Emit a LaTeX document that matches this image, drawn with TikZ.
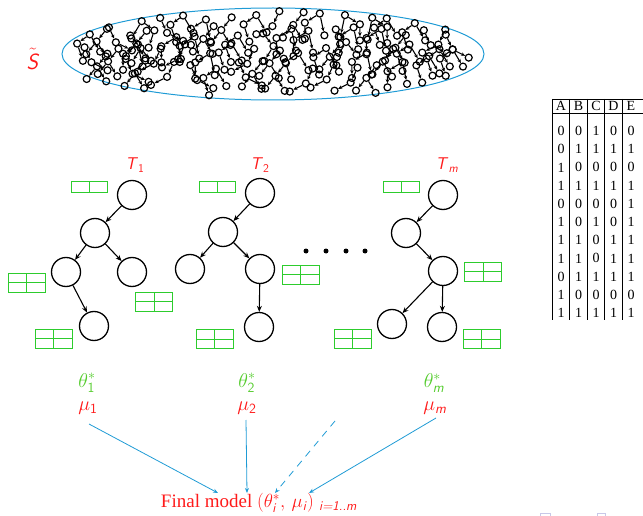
\documentclass[tikz,border=0pt]{standalone}
\usepackage{fix-cm}
\usepackage{amsmath}
\usepackage{fontspec}
\newfontfamily\romanfont{Liberation Serif}
\usepackage{tikz}
\usetikzlibrary{arrows.meta,positioning}

\definecolor{setred}{HTML}{FF1A1A}
\definecolor{slotgreen}{HTML}{2DCC2D}
\definecolor{paramgreen}{HTML}{55CC2E}
\definecolor{flowblue}{HTML}{1F9BD5}
\definecolor{navgray}{HTML}{C8C8E8}

\tikzset{
	tnode/.style={draw, circle, line width=1.3pt, minimum size=29pt, inner sep=0pt},
	tedge/.style={-{Stealth[length=6pt,width=5pt]}, line width=1.1pt},
	mini/.style={draw, circle, line width=1.2pt, minimum size=7pt, inner sep=0pt},
	minedge/.style={-{Stealth[length=4pt,width=3.6pt]}, line width=1.1pt},
	slotrow/.style={draw=slotgreen, line width=1pt, minimum width=36pt, minimum height=11pt, inner sep=0pt,
		path picture={\draw[slotgreen, line width=1pt] (path picture bounding box.north) -- (path picture bounding box.south);}},
	slotgrid/.style={draw=slotgreen, line width=1pt, minimum width=37pt, minimum height=19pt, inner sep=0pt,
		path picture={\draw[slotgreen, line width=1pt] (path picture bounding box.north) -- (path picture bounding box.south)
			(path picture bounding box.west) -- (path picture bounding box.east);}},
	tlabel/.style={text=setred, font=\fontsize{17}{19}\selectfont},
	param/.style={font=\fontsize{20}{22}\selectfont},
	flow/.style={draw=flowblue, line width=0.8pt, -{Stealth[length=5pt,width=4pt]}},
	cell/.style={font=\romanfont\fontsize{14}{16}\selectfont, inner sep=0pt},
	dot/.style={circle, fill=black, minimum size=5pt, inner sep=0pt},
	% small trees of the sample set
	minitA/.pic={
		\node[mini] (p) at (0,-12) {};
		\node[mini] (q) at (-9,-1) {};
		\node[mini] (s) at (-18,10) {};
		\node[mini] (t) at (-1,12) {};
		\draw[minedge] (p) -- (q);
		\draw[minedge] (q) -- (s);
		\draw[minedge] (q) -- (t);
	},
	minitB/.pic={
		\node[mini] (p) at (0,-12) {};
		\node[mini] (q) at (-11,-4) {};
		\node[mini] (s) at (-6,11) {};
		\node[mini] (u) at (9,3) {};
		\draw[minedge] (p) -- (q);
		\draw[minedge] (q) -- (s);
		\draw[minedge] (p) -- (u);
	},
	minitC/.pic={
		\node[mini] (p) at (3,-12) {};
		\node[mini] (q) at (-3,1) {};
		\node[mini] (s) at (-17,8) {};
		\draw[minedge] (p) -- (q);
		\draw[minedge] (q) -- (s);
	},
	minitD/.pic={
		\node[mini] (p) at (0,-11) {};
		\node[mini] (q) at (-13,-3) {};
		\node[mini] (s) at (-13,11) {};
		\node[mini] (t) at (4,8) {};
		\draw[minedge] (p) -- (q);
		\draw[minedge] (q) -- (s);
		\draw[minedge] (p) -- (t);
	}
}
\newcommand{\linknodes}[2]{
	\draw[tedge] (#1) -- (#2);
}

\begin{document}
\begin{tikzpicture}[x=1pt,y=-1pt]
	\useasboundingbox (0,0) rectangle (643,516);

	% sample set with its trees
	\node[text=setred, font=\fontsize{22}{24}\selectfont] (sset) at (33,59) {$\tilde{\textsf{\textit{S}}}$};
	\draw[flowblue, line width=1pt] (273,54) ellipse [x radius=211, y radius=46];
	\pgfmathsetseed{2718}
	\foreach \gx in {0,...,15}{
		\foreach \gy in {-26,-9,8,25}{
			\pgfmathsetmacro{\px}{92+23*\gx+11*mod(\gy+26,2)+10*rnd-5}
			\pgfmathsetmacro{\hw}{46*sqrt(max(0,1-((\px-273)/211)^2))}
			\pgfmathsetmacro{\py}{min(max(54+\gy+10*rnd-5,54-\hw+17),54+\hw-15)}
			\pgfmathtruncatemacro{\inside}{and(abs(\px-270)<185, \hw>20)}
			\pgfmathtruncatemacro{\v}{random(0,3)}
			\pgfmathsetmacro{\fl}{rnd<0.25 ? -1.15 : 1.15}
			\ifnum\inside=1
				\ifcase\v
					\pic[xscale=\fl, yscale=1.15] at (\px,\py) {minitA};
				\or
					\pic[xscale=\fl, yscale=1.15] at (\px,\py) {minitB};
				\or
					\pic[xscale=\fl, yscale=1.15] at (\px,\py) {minitC};
				\or
					\pic[xscale=\fl, yscale=1.15] at (\px,\py) {minitD};
				\fi
			\fi
		}
	}

	% tree T_1
	\node[tlabel] (lab1) at (135,165) {$\textsf{\textit{T}}_{\textsf{1}}$};
	\node[tnode] (r1) at (132,195) {};
	\node[tnode] (a1) at (95,233) {};
	\node[tnode] (b1) at (66,272) {};
	\node[tnode] (c1) at (132,272) {};
	\node[tnode] (d1) at (94,326) {};
	\linknodes{r1}{a1}
	\linknodes{a1}{b1}
	\linknodes{a1}{c1}
	\linknodes{b1}{d1}
	\node[slotrow] (s1a) at (89,187.5) {};
	\node[slotgrid] (s1b) at (26.5,282.5) {};
	\node[slotgrid] (s1c) at (154,301.5) {};
	\node[slotgrid] (s1d) at (53.5,338.5) {};

	% tree T_2
	\node[tlabel] (lab2) at (260,165) {$\textsf{\textit{T}}_{\textsf{2}}$};
	\node[tnode] (r2) at (260,193) {};
	\node[tnode] (a2) at (223,232) {};
	\node[tnode] (b2) at (190,269) {};
	\node[tnode] (c2) at (260,269) {};
	\node[tnode] (d2) at (259,327) {};
	\linknodes{r2}{a2}
	\linknodes{a2}{b2}
	\linknodes{a2}{c2}
	\linknodes{c2}{d2}
	\node[slotrow] (s2a) at (217,187.5) {};
	\node[slotgrid] (s2b) at (300.5,274.5) {};
	\node[slotgrid] (s2c) at (214.5,339) {};

	\foreach \x [count=\k] in {306,326,346,365}
		\node[dot] (dot\k) at (\x,251) {};

	% tree T_m
	\node[tlabel] (labm) at (447,165) {$\textsf{\textit{T}}_{\textsf{\textit{m}}}$};
	\node[tnode] (r3) at (443,195) {};
	\node[tnode] (a3) at (406,233) {};
	\node[tnode] (b3) at (443,271) {};
	\node[tnode] (c3) at (392,324) {};
	\node[tnode] (d3) at (442,327) {};
	\linknodes{r3}{a3}
	\linknodes{a3}{b3}
	\linknodes{b3}{c3}
	\linknodes{b3}{d3}
	\node[slotrow] (s3a) at (401,187.5) {};
	\node[slotgrid] (s3b) at (483,271.5) {};
	\node[slotgrid] (s3c) at (481.5,339) {};
	\node[slotgrid] (s3d) at (352.5,338.5) {};

	% data table
	\foreach \c [count=\i from 0] in {A,B,C,D,E}
		\node[cell] (head-\i) at (561+17.5*\i,106) {\c};
	\foreach \r [count=\j from 0] in {{0,0,1,0,0},{0,1,1,1,1},{1,0,0,0,0},{1,1,1,1,1},{0,0,0,0,1},{1,0,1,0,1},{1,1,0,1,1},{1,1,0,1,1},{0,1,1,1,1},{1,0,0,0,0},{1,1,1,1,1}}
		\foreach \val [count=\i from 0] in \r
			\node[cell] (cell-\j-\i) at (561+17.5*\i,131+18.2*\j) {\val};
	\draw[line width=0.6pt] (552,99) -- (643,99) (552,113) -- (643,113);
	\foreach \x in {552,569.5,...,623}
		\draw[line width=0.6pt] (\x,99) -- (\x,320);

	% parameters of each tree
	\node[param, text=paramgreen] (th1) at (87,383) {$\theta^*_{\textsf{1}}$};
	\node[param, text=setred] (mu1) at (88,408) {$\mu_{\textsf{1}}$};
	\node[param, text=paramgreen] (th2) at (247,383) {$\theta^*_{\textsf{2}}$};
	\node[param, text=setred] (mu2) at (247,408) {$\mu_{\textsf{2}}$};
	\node[param, text=paramgreen] (thm) at (434,383) {$\theta^*_{\textsf{\textit{m}}}$};
	\node[param, text=setred] (mum) at (435,408) {$\mu_{\textsf{\textit{m}}}$};

	\node[text=setred, font=\fontsize{19}{21}\selectfont] (final) at (259,503)
		{\romanfont Final model $(\theta^*_{\textsf{\textit{i}}},\,\mu_{\textsf{\textit{i}}})$\;$_{\textsf{\textit{i=1..m}}}$};

	\coordinate (f1) at (89,424);
	\coordinate (f2) at (246,420);
	\coordinate (f3) at (335,421);
	\coordinate (f4) at (436,418);
	\coordinate (e1) at (218,493);
	\coordinate (e2) at (247,493);
	\coordinate (e3) at (275,493);
	\coordinate (e4) at (309,493);
	\draw[flow] (f1) -- (e1);
	\draw[flow] (f2) -- (e2);
	\draw[flow, dashed, dash pattern=on 7pt off 6pt] (f3) -- (e3);
	\draw[flow] (f4) -- (e4);

	% navigation marks
	\draw[navgray] (540,513) rectangle (550,520);
	\draw[navgray] (597,513) rectangle (605,520);
\end{tikzpicture}
\end{document}
